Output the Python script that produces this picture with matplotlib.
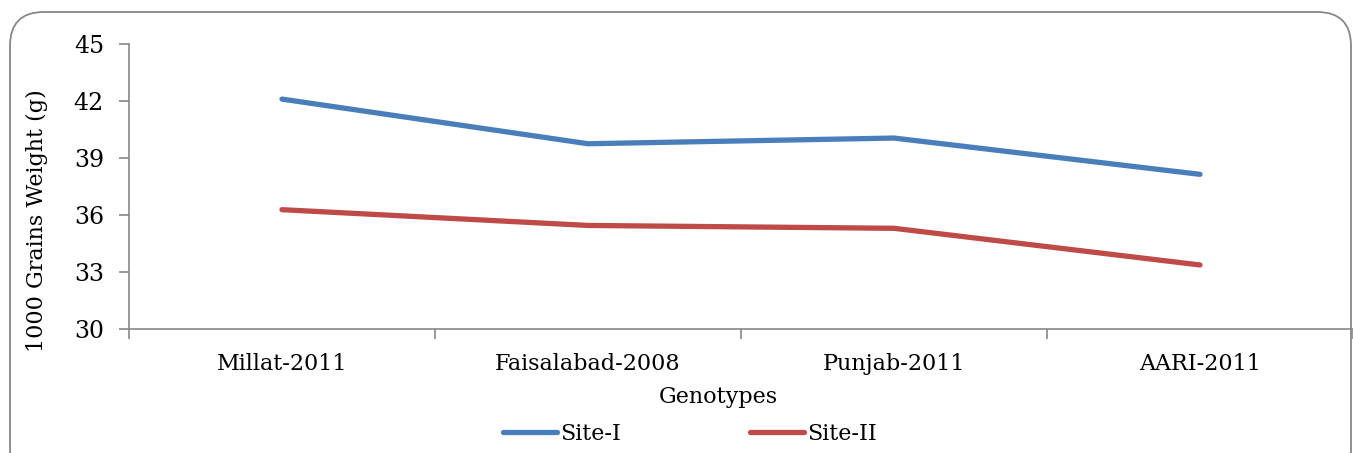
import matplotlib
matplotlib.use("Agg")
import matplotlib.pyplot as plt
from matplotlib.patches import FancyBboxPatch
from matplotlib.lines import Line2D

categories = ["Millat-2011", "Faisalabad-2008", "Punjab-2011", "AARI-2011"]
site1 = [42.1, 39.75, 40.05, 38.14]
site2 = [36.28, 35.45, 35.3, 33.37]
yticks = [30, 33, 36, 39, 42, 45]

W, H = 1353, 453
fig = plt.figure(figsize=(W / 100, H / 100), dpi=100)
font = "DejaVu Serif"
plt.rcParams["font.family"] = [font]

# rounded border
border = FancyBboxPatch((10 / W, -30 / H), (1351 - 10) / W, (H - 12 + 30) / H,
                        boxstyle="round,pad=0,rounding_size=0.025",
                        transform=fig.transFigure, fill=False,
                        edgecolor="#878787", linewidth=1.3, mutation_aspect=W / H)
fig.patches.append(border)

left, right, top, bottom = 129, 1353, 44, 329
ax = fig.add_axes([left / W, 1 - bottom / H, (right - left) / W, (bottom - top) / H])
x = list(range(len(categories)))
ax.plot(x, site1, color="#4A7EBB", lw=3.8, solid_capstyle="round", label="Site-I")
ax.plot(x, site2, color="#BE4B48", lw=3.8, solid_capstyle="round", label="Site-II")
ax.set_xlim(-0.5, len(categories) - 0.5)
ax.set_ylim(30, 45)
ax.set_yticks(yticks)
ax.set_yticklabels([str(v) for v in yticks], fontsize=17)
ax.set_xticks(x)
ax.set_xticklabels(categories, fontsize=16)
ax.tick_params(axis="x", length=0, pad=17)
ax.set_xticks([i - 0.5 for i in range(len(categories) + 1)], minor=True)
ax.tick_params(axis="x", which="minor", length=7, color="#878787", width=1.2, direction="out")
ax.tick_params(axis="y", length=7, color="#878787", width=1.2, direction="out", pad=11)
for s in ["top", "right"]:
    ax.spines[s].set_visible(False)
for s in ["left", "bottom"]:
    ax.spines[s].set_color("#878787")
    ax.spines[s].set_linewidth(1.2)

fig.text(718 / W, 1 - 397 / H, "Genotypes", ha="center", va="center", fontsize=16)
fig.text(37 / W, 1 - 221 / H, "1000 Grains Weight (g)", ha="center", va="center",
         rotation=90, fontsize=16)

handles = [Line2D([], [], color="#4A7EBB", lw=3.8, solid_capstyle="round"),
           Line2D([], [], color="#BE4B48", lw=3.8, solid_capstyle="round")]
fig.legend(handles, ["Site-I", "Site-II"], loc="center left", bbox_to_anchor=(503 / W, 1 - 434 / H),
           ncol=2, frameon=False, fontsize=16, handlelength=2.45, handletextpad=0.12,
           columnspacing=5.8, borderaxespad=0, borderpad=0)

fig.savefig("out.png", dpi=100)
